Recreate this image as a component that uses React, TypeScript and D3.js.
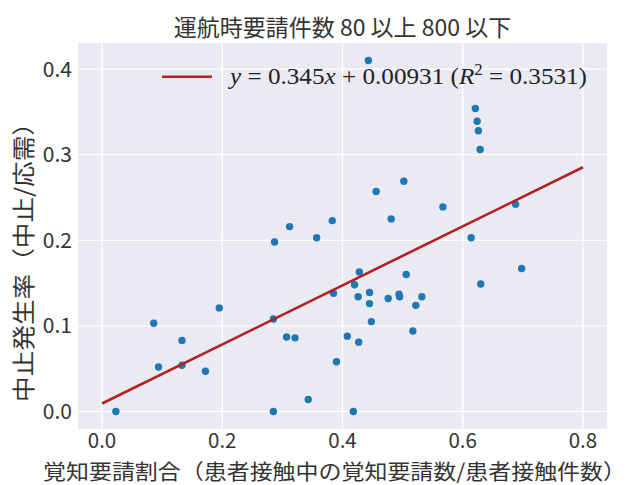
import React from "react";
import * as d3 from "d3";

const xs = [0.023, 0.086, 0.094, 0.133, 0.133, 0.172, 0.195, 0.287, 0.285, 0.285, 0.312, 0.307, 0.321, 0.343, 0.357, 0.383, 0.385, 0.390, 0.408, 0.418, 0.420, 0.428, 0.426, 0.427, 0.445, 0.445, 0.448, 0.443, 0.456, 0.481, 0.476, 0.494, 0.495, 0.502, 0.506, 0.517, 0.522, 0.532, 0.567, 0.614, 0.621, 0.624, 0.626, 0.629, 0.630, 0.688, 0.698];
const ys = [0.000, 0.103, 0.052, 0.083, 0.054, 0.047, 0.121, 0.198, 0.108, 0.000, 0.216, 0.087, 0.086, 0.014, 0.203, 0.223, 0.138, 0.058, 0.088, 0.000, 0.148, 0.163, 0.134, 0.081, 0.139, 0.126, 0.105, 0.410, 0.257, 0.225, 0.132, 0.137, 0.134, 0.269, 0.160, 0.094, 0.124, 0.134, 0.239, 0.203, 0.354, 0.339, 0.328, 0.306, 0.149, 0.242, 0.167];
const slope = 0.345;
const intercept = 0.00931;
const fitX = [0, 0.8];
const xTicks = [0.0, 0.2, 0.4, 0.6, 0.8];
const yTicks = [0.0, 0.1, 0.2, 0.3, 0.4];
const title = "運航時要請件数 80 以上 800 以下";
const xLabel = "覚知要請割合（患者接触中の覚知要請数/患者接触件数）";
const yLabel = "中止発生率（中止/応需）";

export default function App() {
  const L = 78, R = 607, T = 43, B = 429;
  const x = d3.scaleLinear().domain([-0.04, 0.84]).range([L, R]);
  const y = d3.scaleLinear().domain([-0.0205, 0.4305]).range([B, T]);
  const line = d3.line<number>().x((d) => x(d)).y((d) => y(slope * d + intercept));
  const sans = "'Noto Sans CJK JP', 'Noto Sans', sans-serif";
  const serif = "'Liberation Serif', 'DejaVu Serif', serif";
  const txt = "#333333";
  return (
    <svg width={630} height={485} style={{ position: "absolute", left: 0, top: 0, background: "#fff" }}>
      <rect x={L} y={T} width={R - L} height={B - T} fill="#eaeaf2" />
      {xTicks.map((t) => (
        <line key={"gx" + t} x1={x(t)} x2={x(t)} y1={T} y2={B} stroke="#fff" strokeWidth={1.3} />
      ))}
      {yTicks.map((t) => (
        <line key={"gy" + t} x1={L} x2={R} y1={y(t)} y2={y(t)} stroke="#fff" strokeWidth={1.3} />
      ))}
      {xs.map((v, i) => (
        <circle key={"p" + i} cx={x(v)} cy={y(ys[i])} r={3.7} fill="#1f77b4" />
      ))}
      <path d={line(fitX) || ""} stroke="#b22222" strokeWidth={2.6} fill="none" />
      {xTicks.map((t) => (
        <text key={"tx" + t} x={x(t)} y={448} textAnchor="middle" fontFamily={sans} fontSize={20.5} fill={txt}>
          {d3.format(".1f")(t)}
        </text>
      ))}
      {yTicks.map((t) => (
        <text key={"ty" + t} x={72} y={y(t)} dy="0.36em" textAnchor="end" fontFamily={sans} fontSize={21} fill={txt}>
          {d3.format(".1f")(t)}
        </text>
      ))}
      <text x={(L + R) / 2} y={36} textAnchor="middle" fontFamily={sans} fontSize={23} fill={txt}>
        {title}
      </text>
      <text x={43} y={478.5} fontFamily={sans} fontSize={21} fill={txt} textLength={583} lengthAdjust="spacingAndGlyphs">
        {xLabel}
      </text>
      <text
        transform="translate(32,256) rotate(-90)"
        textAnchor="middle"
        fontFamily={sans}
        fontSize={23}
        fill={txt}
        textLength={292}
        lengthAdjust="spacingAndGlyphs"
      >
        {yLabel}
      </text>
      <line x1={162} x2={212} y1={76.7} y2={76.7} stroke="#b22222" strokeWidth={2.6} />
      <text x={230} y={84} fontFamily={serif} fontSize={24} fill="#222" textLength={357} lengthAdjust="spacingAndGlyphs">
        <tspan fontStyle="italic">y</tspan>
        <tspan>{" = 0.345"}</tspan>
        <tspan fontStyle="italic">x</tspan>
        <tspan>{" + 0.00931 ("}</tspan>
        <tspan fontStyle="italic">R</tspan>
        <tspan fontSize={16} dy={-9}>2</tspan>
        <tspan dy={9}>{" = 0.3531)"}</tspan>
      </text>
    </svg>
  );
}
